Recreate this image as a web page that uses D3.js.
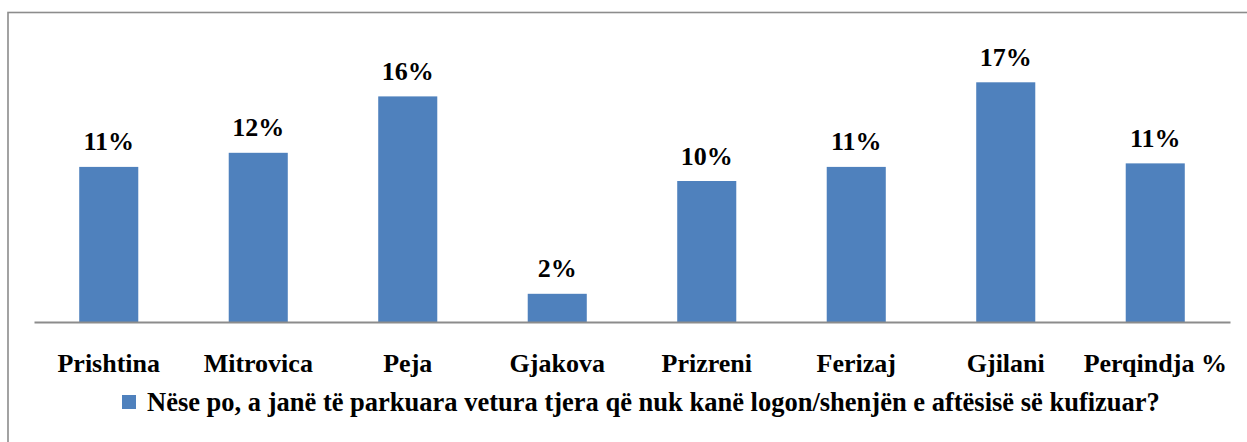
<!DOCTYPE html>
<html>
<head>
<meta charset="utf-8">
<script src="https://cdn.jsdelivr.net/npm/d3@7"></script>
<style>
  body { margin: 0; background: #fff; }
  svg { display: block; }
</style>
</head>
<body>
<svg id="chart" width="1247" height="442"></svg>
<script>
// data
let cities = ["Prishtina", "Mitrovica", "Peja", "Gjakova", "Prizreni", "Ferizaj", "Gjilani", "Perqindja %"];
let values = [11, 12, 16, 2, 10, 11, 17, 11.25];
let valueLabels = ["11%", "12%", "16%", "2%", "10%", "11%", "17%", "11%"];
let seriesName = "Nëse po, a janë të parkuara vetura tjera që nuk kanë logon/shenjën e aftësisë së kufizuar?";

let svg = d3.select("#chart");
let barColor = "#4F81BD";
let serif = "\"Liberation Serif\", \"Times New Roman\", serif";

// outer frame (runs off the right and bottom edge like the original)
svg.append("rect")
    .attr("x", 8).attr("y", 12.5)
    .attr("width", 1400).attr("height", 600)
    .attr("fill", "none")
    .attr("stroke", "#8c8c8c")
    .attr("stroke-width", 1.6);

let baseY = 322;
let x = d3.scaleBand().domain(cities).range([34, 1230]).paddingInner(0.605).paddingOuter(0.3025);
let y = d3.scaleLinear().domain([0, 20]).range([baseY, baseY - 282]);

let data = cities.map((c, i) => { return {city: c, value: values[i], label: valueLabels[i]}; });

svg.append("g").selectAll("rect").data(data).enter().append("rect")
    .attr("x", d => x(d.city))
    .attr("y", d => y(d.value))
    .attr("width", x.bandwidth())
    .attr("height", d => y(0) - y(d.value))
    .attr("fill", barColor);

// value labels above bars
svg.append("g").selectAll("text").data(data).enter().append("text")
    .attr("x", d => x(d.city) + x.bandwidth() / 2)
    .attr("y", d => y(d.value) - 16.5)
    .attr("text-anchor", "middle")
    .style("font-family", serif)
    .style("font-weight", "bold")
    .style("font-size", "26px")
    .style("fill", "#000")
    .text(d => d.label);

// category axis, no ticks
let axis = svg.append("g").attr("transform", `translate(0, ${baseY})`)
    .call(d3.axisBottom(x).tickSize(0).tickPadding(0));
axis.select(".domain").attr("stroke", "#8c8c8c").attr("stroke-width", 2);
axis.selectAll(".tick text")
    .attr("y", 49.7)
    .attr("dy", null)
    .style("font-family", serif)
    .style("font-weight", "bold")
    .style("font-size", "26px")
    .style("fill", "#000");

// legend
let legend = svg.append("g");
legend.append("rect")
    .attr("x", 122).attr("y", 395)
    .attr("width", 14).attr("height", 14)
    .attr("fill", barColor);
legend.append("text")
    .attr("x", 147).attr("y", 411)
    .style("font-family", serif)
    .style("font-weight", "bold")
    .style("font-size", "26.5px")
    .style("fill", "#000")
    .text(seriesName);
</script>
</body>
</html>
